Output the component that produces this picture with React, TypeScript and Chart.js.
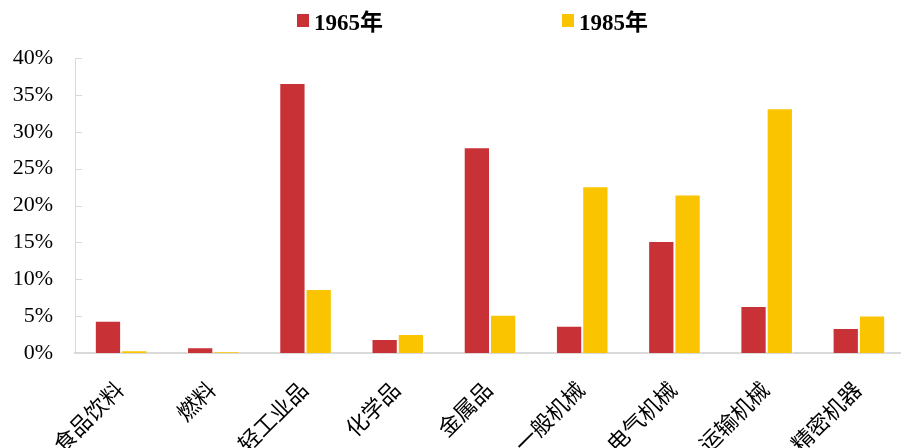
import React, { useEffect, useRef } from "react";
import { Chart, registerables } from "chart.js";

Chart.register(...registerables);

const categories = ["食品饮料", "燃料", "轻工业品", "化学品", "金属品", "一般机械", "电气机械", "运输机械", "精密机器"];
const series1965 = [4.4, 0.8, 36.6, 1.9, 27.9, 3.7, 15.2, 6.4, 3.4];
const series1985 = [0.4, 0.2, 8.7, 2.6, 5.2, 22.6, 21.5, 33.2, 5.1];
const seriesLabels = ["1965年", "1985年"];
const seriesColors = ["#C83136", "#FBC400"];
const yTicks = [0, 5, 10, 15, 20, 25, 30, 35, 40];

const decorPlugin = {
  id: "decor",
  afterDraw(chart: any) {
    const ctx = chart.ctx;
    const ys = chart.scales.y;
    const left = chart.chartArea.left;
    ctx.save();
    ctx.strokeStyle = "#D9D9D9";
    ctx.lineWidth = 1;
    yTicks.forEach((v) => {
      const y = Math.round(ys.getPixelForValue(v)) + 0.5;
      ctx.beginPath();
      ctx.moveTo(left, y);
      ctx.lineTo(left + 7, y);
      ctx.stroke();
    });
    // legend
    ctx.font = "bold 23px 'Liberation Serif', 'Noto Sans CJK SC', serif";
    ctx.textBaseline = "alphabetic";
    ctx.textAlign = "left";
    const starts = [297, 562];
    chart.data.datasets.forEach((ds: any, i: number) => {
      const x = starts[i];
      ctx.fillStyle = ds.backgroundColor;
      ctx.fillRect(x, 14, 12, 13);
      ctx.fillStyle = "#000";
      ctx.fillText(ds.label, x + 17, 30);
    });
    ctx.restore();
  },
};

export default function App() {
  const ref = useRef<HTMLCanvasElement | null>(null);
  useEffect(() => {
    if (!ref.current) return;
    const chart = new Chart(ref.current, {
      type: "bar",
      data: {
        labels: categories,
        datasets: [
          { label: seriesLabels[0], data: series1965, backgroundColor: seriesColors[0], borderColor: "rgba(255,255,255,0.6)", borderWidth: 1 },
          { label: seriesLabels[1], data: series1985, backgroundColor: seriesColors[1], borderColor: "rgba(255,255,255,0.6)", borderWidth: 1 },
        ],
      },
      options: {
        responsive: false,
        animation: false,
        devicePixelRatio: 1,
        layout: { padding: { top: 58, left: 0, right: 0, bottom: 0 } },
        datasets: { bar: { barPercentage: 1, categoryPercentage: 0.57 } },
        plugins: { legend: { display: false }, tooltip: { enabled: false } },
        scales: {
          x: {
            grid: { display: false, drawTicks: false },
            border: { color: "#D9D9D9", width: 2 },
            ticks: {
              color: "#000",
              minRotation: 45,
              maxRotation: 45,
              autoSkip: false,
              padding: 25,
              font: { size: 22, family: "'Liberation Serif', 'Noto Sans CJK SC', serif" },
            },
          },
          y: {
            min: 0,
            max: 40,
            grid: { display: false, drawTicks: false },
            border: { color: "#D9D9D9", width: 1 },
            afterBuildTicks: (s: any) => {
              s.ticks = yTicks.map((v) => ({ value: v }));
            },
            afterFit: (s: any) => {
              s.width = 75;
            },
            ticks: {
              color: "#000",
              padding: 22,
              font: { size: 22, family: "'Liberation Serif', serif" },
              callback: (v: any) => v + "%",
            },
          },
        },
      },
      plugins: [decorPlugin],
    });
    return () => chart.destroy();
  }, []);
  return (
    <div style={{ position: "absolute", left: 0, top: 0, width: 901, height: 448, overflow: "hidden", background: "#fff" }}>
      <canvas ref={ref} width={905} height={484} style={{ display: "block" }} />
    </div>
  );
}
